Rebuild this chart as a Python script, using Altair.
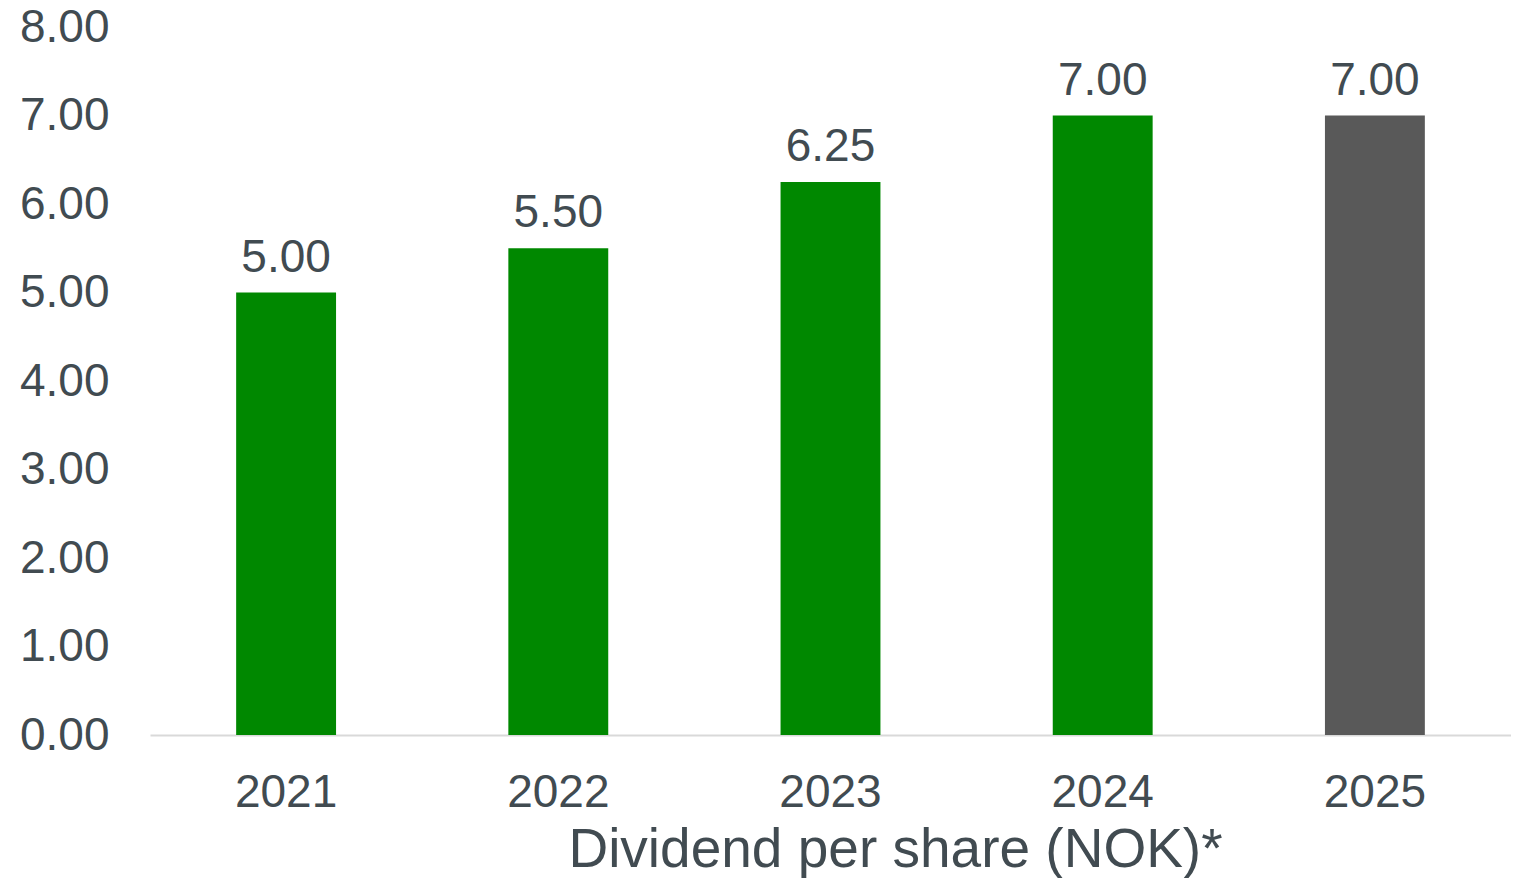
import altair as alt
import pandas as pd

years = ["2021", "2022", "2023", "2024", "2025"]
dividends = [5.00, 5.50, 6.25, 7.00, 7.00]

df = pd.DataFrame({"year": years, "dividend": dividends})

TEXT = "#414B51"
FONT = "Liberation Sans"

base = alt.Chart(df).encode(
    x=alt.X(
        "year:N",
        sort=years,
        scale=alt.Scale(paddingInner=0.633, paddingOuter=0.3165),
        axis=alt.Axis(
            title="Dividend per share (NOK)*",
            labelAngle=0,
            labelFont=FONT,
            labelFontSize=46,
            labelColor=TEXT,
            labelBaseline="alphabetic",
            labelPadding=71,
            ticks=False,
            tickSize=0,
            domain=True,
            domainColor="#D9D9D9",
            domainWidth=2,
            grid=False,
            titleFont=FONT,
            titleFontSize=55,
            titleFontWeight="normal",
            titleColor=TEXT,
            titleX=745,
            titleY=131,
            titleAlign="center",
            titleBaseline="alphabetic",
        ),
    ),
    y=alt.Y(
        "dividend:Q",
        scale=alt.Scale(domain=[0, 8], nice=False),
        axis=alt.Axis(
            title=None,
            values=[0, 1, 2, 3, 4, 5, 6, 7, 8],
            format=".2f",
            labelFont=FONT,
            labelFontSize=46,
            labelColor=TEXT,
            labelAlign="right",
            labelBaseline="middle",
            labelPadding=41,
            ticks=False,
            tickSize=0,
            domain=False,
            grid=False,
        ),
    ),
)

bars = base.mark_bar().encode(
    color=alt.condition(
        "datum.year == '2025'", alt.value("#595959"), alt.value("#008800")
    )
)

labels = base.mark_text(
    baseline="alphabetic",
    dy=-21,
    font=FONT,
    fontSize=46,
    color=TEXT,
).encode(text=alt.Text("dividend:Q", format=".2f"))

chart = (
    (bars + labels)
    .properties(
        width=1361,
        height=708,
        autosize=alt.AutoSizeParams(type="none"),
        padding={"left": 142, "top": 19, "right": 0, "bottom": 143},
        background="white",
    )
    .configure_view(strokeWidth=0, strokeOpacity=0)
)

chart.save("out.html", embed_options={"renderer": "svg", "actions": False})
